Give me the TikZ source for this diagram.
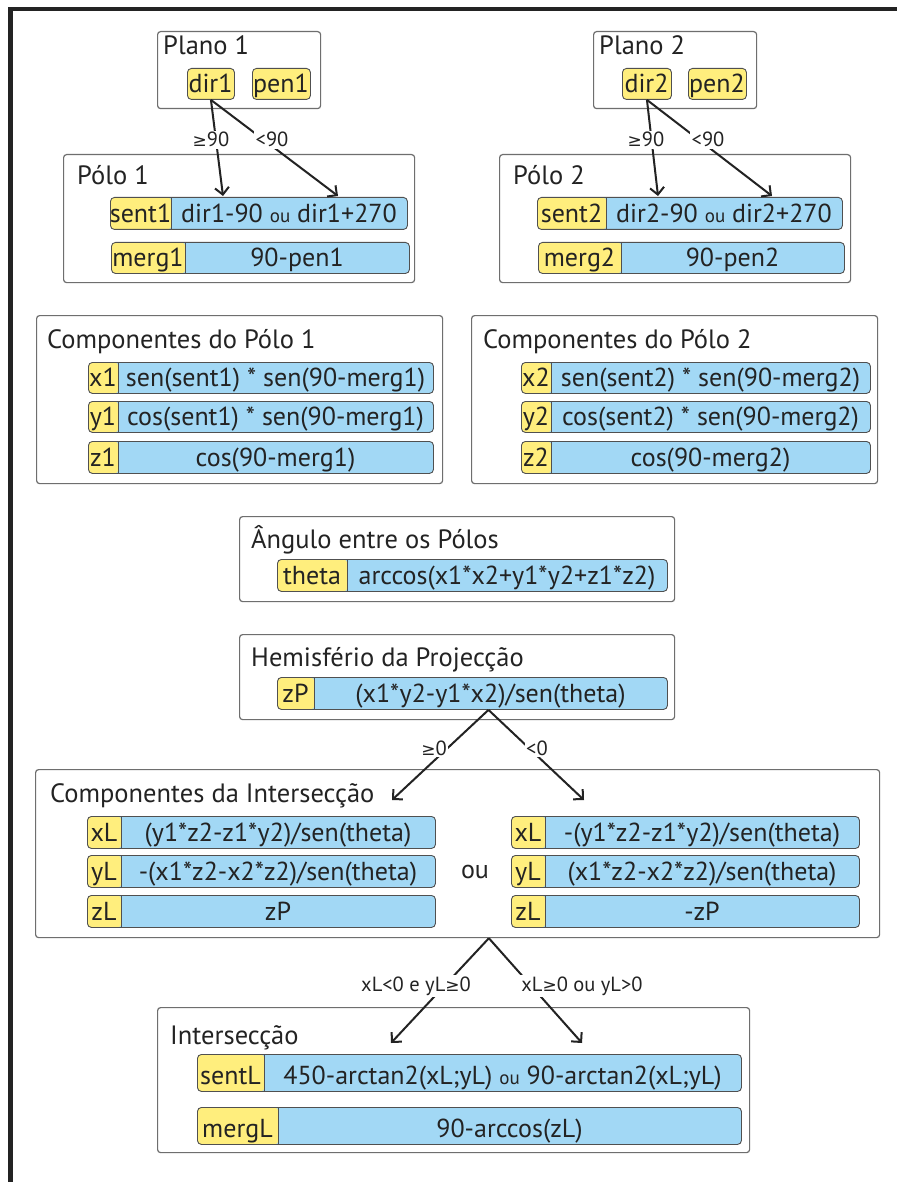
\documentclass[tikz,border=0pt]{standalone}
\usepackage{fontspec}
\setmainfont{PT Sans}
\newfontfamily\symfont{DejaVu Sans}
\usetikzlibrary{arrows.meta,calc}
\definecolor{kyellow}{RGB}{255,238,125}
\definecolor{vblue}{RGB}{162,216,245}
\definecolor{rowline}{RGB}{80,80,80}
\definecolor{grpline}{RGB}{110,110,110}
\definecolor{ink}{RGB}{35,35,35}
\tikzset{
 grp/.style={draw=grpline, line width=1.2pt, rounded corners=3pt, anchor=north west, inner sep=0, fill=white},
 ttl/.style={anchor=base west, inner sep=0, text=ink, font=\fontsize{26.5}{30}\selectfont},
 txt/.style={anchor=base, inner sep=0, text=ink, font=\fontsize{26}{30}\selectfont},
 lbl/.style={anchor=base, inner sep=1.5pt, fill=white, text=ink, font=\fontsize{20.5}{22}\selectfont},
 arr/.style={draw=ink, line width=2pt, -{Straight Barb[length=7pt,width=14pt]}},
 row/.style={draw=rowline, line width=0.9pt, rounded corners=4pt, fill=vblue, anchor=north west, inner sep=0},
 keybox/.style={draw=rowline, line width=0.9pt, rounded corners=4pt, fill=kyellow, anchor=north west, inner sep=0},
 frame/.style={draw=ink, line width=4.5pt}
}
\newcommand\smou{{\fontsize{19}{20}\selectfont ou}}
\newcommand\gee{{\symfont\fontsize{17}{20}\selectfont ≥}}
% group box: name, x1, y1, x2, y2
\newcommand\grpbox[5]{\node[grp, minimum width={#4-#2}, minimum height={#5-#3}] (#1) at (#2,#3) {};}
% single key box: name, x1, y1, x2, y2, text
\newcommand\kbox[6]{\node[keybox, minimum width={#4-#2}, minimum height={#5-#3}] (#1) at (#2,#3) {};
 \node[txt] (#1-t) at ({(#2+#4)/2},{#5-6}) {#6};}
% row: name, x1, xsplit, x2, y1, y2, key, value
\newcommand\frow[8]{%
 \node[row, minimum width={#4-#2}, minimum height={#6-#5},
   path picture={\fill[kyellow] (path picture bounding box.north west) rectangle ([xshift={#3-#2}]path picture bounding box.south west);
     \draw[rowline, line width=0.9pt] ([xshift={#3-#2}]path picture bounding box.north west) -- ([xshift={#3-#2}]path picture bounding box.south west);}] (#1) at (#2,#5) {};
 \node[txt] (#1-k) at ({(#2+#3)/2},{#6-6.5}) {#7};
 \node[txt] (#1-v) at ({(#3+#4)/2},{#6-6.5}) {#8};}
\begin{document}
\begin{tikzpicture}[x=1pt,y=-1pt]
\path[fill=white,use as bounding box] (0,0) rectangle (897,1182);
\draw[frame] (10.5,1182) -- (10.5,9) -- (897,9);

% Plano 1 / Plano 2
\grpbox{plano1}{157}{31}{320}{108}
\node[ttl] (plano1-t) at (163,55) {Plano 1};
\kbox{dir1}{187}{68}{234}{99}{dir1}
\kbox{pen1}{252}{68}{310}{99}{pen1}
\grpbox{plano2}{593}{31}{756}{108}
\node[ttl] (plano2-t) at (599,55) {Plano 2};
\kbox{dir2}{622}{68}{671}{99}{dir2}
\kbox{pen2}{688}{68}{746}{99}{pen2}

% Polo 1 / Polo 2
\grpbox{polo1}{63}{154}{414}{282}
\node[ttl] (polo1-t) at (77,185) {Pólo 1};
\frow{sent1}{110}{171}{407}{197}{229}{sent1}{dir1-90 \smou{} dir1+270}
\frow{merg1}{111}{185}{409}{242}{273}{merg1}{90-pen1}
\grpbox{polo2}{499}{154}{850}{282}
\node[ttl] (polo2-t) at (513,185) {Pólo 2};
\frow{sent2}{537}{606}{842}{197}{229}{sent2}{dir2-90 \smou{} dir2+270}
\frow{merg2}{538}{621}{844}{242}{273}{merg2}{90-pen2}

% arrows plano -> polo
\coordinate (a1a) at (223,196);
\coordinate (a1b) at (338,196);
\coordinate (a2a) at (658,196);
\coordinate (a2b) at (772,196);
\draw[arr] (dir1.south) -- (a1a);
\draw[arr] (dir1.south) -- (a1b);
\draw[arr] (dir2.south) -- (a2a);
\draw[arr] (dir2.south) -- (a2b);
\node[lbl] (l1a) at (211,147) {\gee90};
\node[lbl] (l1b) at (272,147) {<90};
\node[lbl] (l2a) at (646,147) {\gee90};
\node[lbl] (l2b) at (708,147) {<90};

% Componentes dos polos
\grpbox{comp1}{36}{315}{442}{483}
\node[ttl] (comp1-t) at (47,348) {Componentes do Pólo 1};
\frow{x1}{88}{118}{433}{362}{393}{x1}{sen(sent1) * sen(90-merg1)}
\frow{y1}{88}{118}{433}{401}{432}{y1}{cos(sent1) * sen(90-merg1)}
\frow{z1}{88}{118}{433}{441}{473}{z1}{cos(90-merg1)}
\grpbox{comp2}{471}{315}{877}{483}
\node[ttl] (comp2-t) at (483,348) {Componentes do Pólo 2};
\frow{x2}{521}{551}{870}{362}{393}{x2}{sen(sent2) * sen(90-merg2)}
\frow{y2}{521}{551}{870}{401}{432}{y2}{cos(sent2) * sen(90-merg2)}
\frow{z2}{521}{551}{870}{441}{473}{z2}{cos(90-merg2)}

% Angulo
\grpbox{ang}{239}{516}{674}{601}
\node[ttl] (ang-t) at (251,548) {Ângulo entre os Pólos};
\frow{theta}{277}{347}{667}{559}{591}{theta}{arccos(x1*x2+y1*y2+z1*z2)}

% Hemisferio
\grpbox{hem}{239}{634}{674}{719}
\node[ttl] (hem-t) at (251,666) {Hemisfério da Projecção};
\frow{zP}{277}{314}{667}{677}{709}{zP}{(x1*y2-y1*x2)/sen(theta)}

% Componentes da interseccao
\grpbox{inter}{35}{769}{879}{937}
\node[ttl] (inter-t) at (50,802) {Componentes da Intersecção};
\frow{xLa}{87}{121}{435}{816}{848}{xL}{(y1*z2-z1*y2)/sen(theta)}
\frow{yLa}{87}{121}{435}{855}{887}{yL}{-(x1*z2-x2*z2)/sen(theta)}
\frow{zLa}{87}{121}{435}{895}{927}{zL}{zP}
\frow{xLb}{511}{545}{859}{816}{848}{xL}{-(y1*z2-z1*y2)/sen(theta)}
\frow{yLb}{511}{545}{859}{855}{887}{yL}{(x1*z2-x2*z2)/sen(theta)}
\frow{zLb}{511}{545}{859}{895}{927}{zL}{-zP}
\node[txt] (ou) at (475,878) {ou};

\coordinate (h1) at ($(zP.south west)!0.541!(zP.south east)$);
\coordinate (h1a) at (392,800);
\coordinate (h1b) at (584,800);
\draw[arr] (h1) -- (h1a);
\draw[arr] (h1) -- (h1b);
\node[lbl] (lh1a) at (434,755) {\gee0};
\node[lbl] (lh1b) at (537,755) {<0};

% Interseccao
\grpbox{interL}{157}{1007}{749}{1152}
\node[ttl] (interL-t) at (170,1044) {Intersecção};
\frow{sentL}{197}{264}{741}{1054}{1091}{sentL}{450-arctan2(xL;yL) \smou{} 90-arctan2(xL;yL)}
\frow{mergL}{197}{278}{741}{1107}{1144}{mergL}{90-arccos(zL)}

\coordinate (i1) at ($(inter.south west)!0.537!(inter.south east)$);
\coordinate (i1a) at (391,1043);
\coordinate (i1b) at (582,1043);
\draw[arr] (i1) -- (i1a);
\draw[arr] (i1) -- (i1b);
\node[lbl] (li1a) at (416,991) {xL<0 e yL\gee0};
\node[lbl] (li1b) at (582,991) {xL\gee0 ou yL>0};
\end{tikzpicture}
\end{document}
